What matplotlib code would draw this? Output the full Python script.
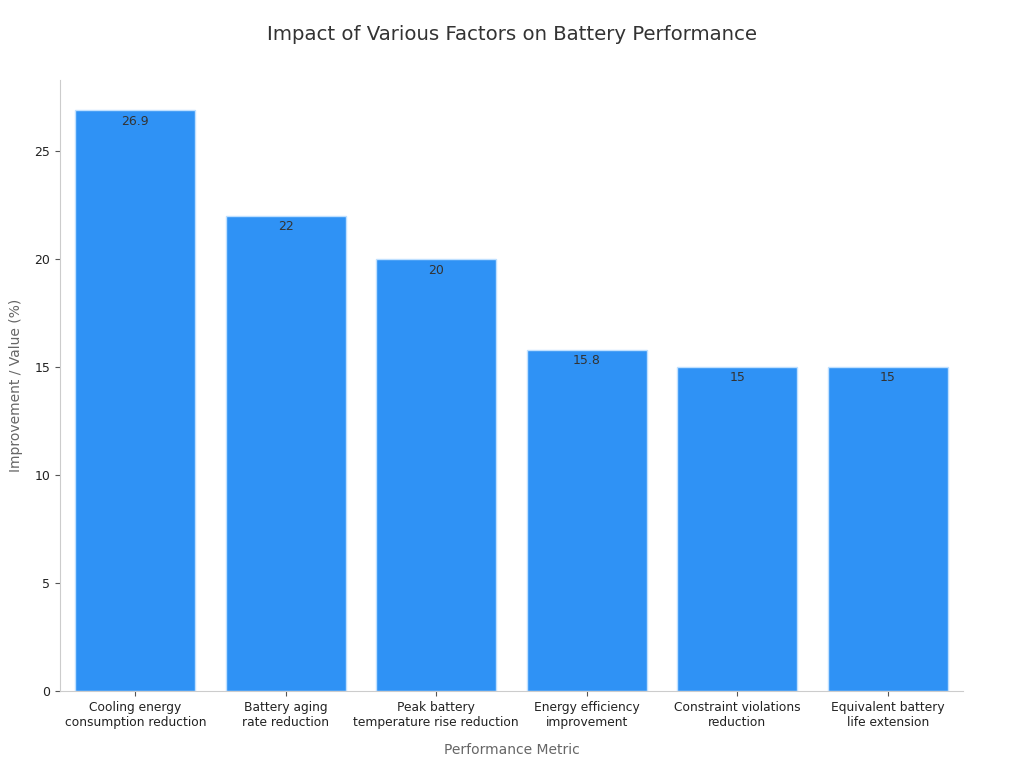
import matplotlib
matplotlib.use("Agg")
import matplotlib.pyplot as plt

categories = [
    "Cooling energy\nconsumption reduction",
    "Battery aging\nrate reduction",
    "Peak battery\ntemperature rise reduction",
    "Energy efficiency\nimprovement",
    "Constraint violations\nreduction",
    "Equivalent battery\nlife extension",
]
values = [26.9, 22, 20, 15.8, 15, 15]
labels = ["26.9", "22", "20", "15.8", "15", "15"]

fig = plt.figure(figsize=(10.24, 7.68), dpi=100)
ax = fig.add_axes([0.0586, 0.1003, 0.8818, 0.7955])

x = range(len(values))
bars = ax.bar(x, values, width=0.8, color="#2F92F5", edgecolor="#BFE0FF", linewidth=1)
for b, lab in zip(bars, labels):
    ax.text(b.get_x() + b.get_width() / 2, b.get_height() - 0.2, lab,
            ha="center", va="top", fontsize=9, color="#333333")

ax.set_xlim(-0.5, 5.5)
ax.set_ylim(0, 28.3)
ax.set_xticks(list(x))
ax.set_xticklabels(categories, fontsize=8.8, color="#222222")
ax.set_yticks([0, 5, 10, 15, 20, 25])
ax.tick_params(axis="y", labelsize=9)
for t in ax.get_yticklabels():
    t.set_color("#222222")
ax.tick_params(color="#555555")
for s in ["top", "right"]:
    ax.spines[s].set_visible(False)
for s in ["left", "bottom"]:
    ax.spines[s].set_color("#CCCCCC")

ax.set_xlabel("Performance Metric", fontsize=10, color="#666666", labelpad=10)
ax.set_ylabel("Improvement / Value (%)", fontsize=10, color="#666666", labelpad=8)
fig.suptitle("Impact of Various Factors on Battery Performance", fontsize=14.2,
             color="#333333", y=0.968)

fig.savefig("out.png", dpi=100)
